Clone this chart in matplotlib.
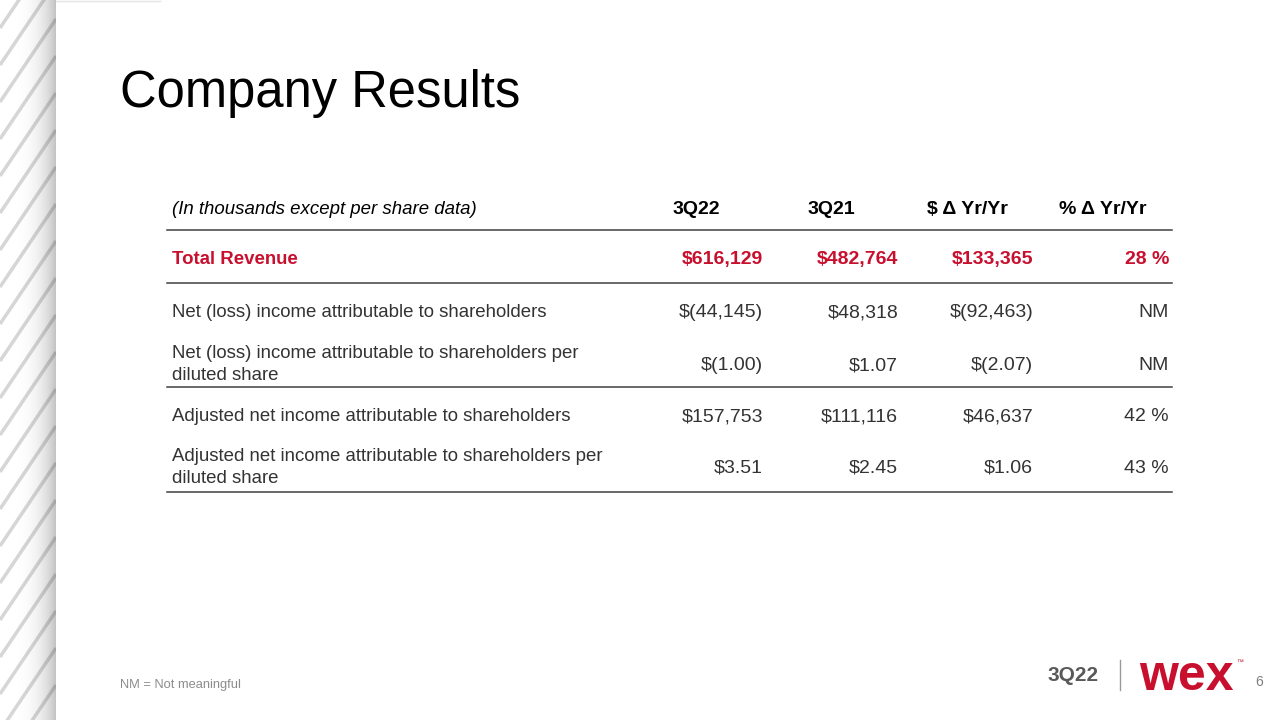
"""
Company Results slide: a small financial table drawn with matplotlib text and lines.
"""

import numpy as np
import matplotlib
matplotlib.use("Agg")
import matplotlib.pyplot as plt

plt.rcParams["font.family"] = ["Liberation Sans", "DejaVu Sans"]

RED = "#c8102e"
DARK = "#333333"

# --- table data ---
columns = ["3Q22", "3Q21", "$ \u0394 Yr/Yr", "% \u0394 Yr/Yr"]
row_labels = [
    "Total Revenue",
    "Net (loss) income attributable to shareholders",
    "Net (loss) income attributable to shareholders per\ndiluted share",
    "Adjusted net income attributable to shareholders",
    "Adjusted net income attributable to shareholders per\ndiluted share",
]
q3_22 = ["$616,129", "$(44,145)", "$(1.00)", "$157,753", "$3.51"]
q3_21 = ["$482,764", "$48,318", "$1.07", "$111,116", "$2.45"]
dollar_change = ["$133,365", "$(92,463)", "$(2.07)", "$46,637", "$1.06"]
pct_change = ["28 %", "NM", "NM", "42 %", "43 %"]

# layout (pixels, y grows downward; row_y = visual centre of each row)
row_y = [257, 310, 363, 414, 466]
value_right = [763, 898, 1033, 1169]
header_center = [696, 831, 967, 1103]
rule_y = [230, 283, 387, 492]
LABEL_SIZE = 13.4
VALUE_SIZE = 14
LINE_GAP = 22
HALF_CAP = 7  # half the cap height in px, to go from centre to baseline

fig = plt.figure(figsize=(12.8, 7.2), dpi=100)
ax = fig.add_axes([0, 0, 1, 1])
ax.set_xlim(0, 1280)
ax.set_ylim(720, 0)
ax.axis("off")

# --- striped side panel on the left ---
side = fig.add_axes([0, 0, 56 / 1280, 1])
side.set_xlim(0, 56)
side.set_ylim(720, 0)
side.axis("off")
for y0 in np.arange(-120, 840, 37):
    side.plot([0, 56], [y0, y0 - 83], color="#d6d6d6", lw=2.5, solid_capstyle="butt")
shade = np.zeros((2, 120, 4))
shade[:, :, 3] = np.linspace(0, 1, 120) ** 3.5 * 0.24
side.imshow(shade, extent=[0, 56, 720, 0], aspect="auto", zorder=5)
ax.plot([56, 160], [0.5, 0.5], color="#e4e4e4", lw=1)

# --- title ---
ax.text(120, 107, "Company Results", fontsize=36.5, color="black",
        va="baseline", ha="left")

# --- header row ---
ax.text(172, 207 + HALF_CAP, "(In thousands except per share data)",
        fontsize=LABEL_SIZE, style="italic", color="black", va="baseline")
for cx, name in zip(header_center, columns):
    ax.text(cx, 207 + HALF_CAP, name, fontsize=VALUE_SIZE, fontweight="bold",
            color="black", ha="center", va="baseline")

for y in rule_y:
    ax.plot([167, 1172], [y, y], color="#404040", lw=1.1)

# --- body rows ---
for i, label in enumerate(row_labels):
    is_total = i == 0
    color = RED if is_total else DARK
    weight = "bold" if is_total else "normal"
    lines = label.split("\n")
    top = row_y[i] - LINE_GAP * (len(lines) - 1) / 2 - 1 * (len(lines) - 1)
    for k, line in enumerate(lines):
        ax.text(172, top + k * LINE_GAP + HALF_CAP, line, fontsize=LABEL_SIZE,
                color=color, fontweight=weight, va="baseline", ha="left")
    vals = [q3_22[i], q3_21[i], dollar_change[i], pct_change[i]]
    for rx, v in zip(value_right, vals):
        ax.text(rx, row_y[i] + HALF_CAP, v, fontsize=VALUE_SIZE, color=color,
                fontweight=weight, va="baseline", ha="right")

# --- footer ---
ax.text(120, 688, "NM = Not meaningful", fontsize=9.3, color="#8c8c8c", va="baseline")
ax.text(1073, 681, "3Q22", fontsize=15, fontweight="bold", color="#595959",
        ha="center", va="baseline")
ax.plot([1120, 1120], [660, 690], color="#9a9a9a", lw=1)
ax.text(1139, 690, "wex", fontsize=36, fontweight="bold", color=RED,
        ha="left", va="baseline")
ax.text(1236, 663, "\u2122", fontsize=5, color=RED, ha="left", va="center")
ax.text(1259, 686, "6", fontsize=10, color="#7f7f7f", ha="center", va="baseline")

fig.savefig("out.png", dpi=100)
